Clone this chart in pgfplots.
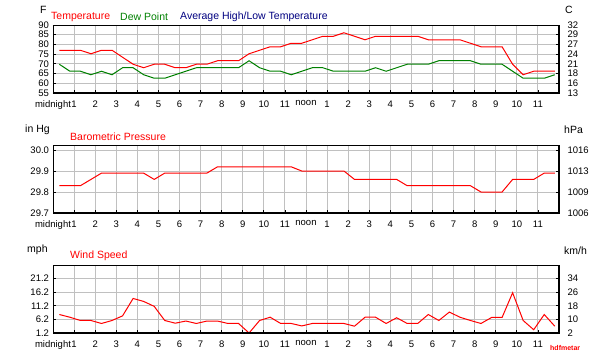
\documentclass[border=0pt]{standalone}
\usepackage{pgfplots}
\usepackage{pgfplotstable}
\pgfplotsset{compat=1.18}
\usepackage{fontspec}
\setmainfont{Liberation Sans}
\definecolor{tred}{HTML}{FF0000}
\definecolor{tgreen}{HTML}{008000}
\definecolor{tnavy}{HTML}{000080}
\definecolor{gridgray}{HTML}{C0C0C0}

% temperature and dew point, degrees F (half-hourly observations)
\pgfplotstableread{
h t d
0.3 77 69.8
0.8 77 66.2
1.3 77 66.2
1.8 75.2 64.4
2.3 77 66.2
2.8 77 64.4
3.3 73.4 68
3.8 69.8 68
4.3 68 64.4
4.8 69.8 62.6
5.3 69.8 62.6
5.8 68 64.4
6.3 68 66.2
6.8 69.8 68
7.3 69.8 68
7.8 71.6 68
8.3 71.6 68
8.8 71.6 68
9.3 75.2 71.6
9.8 77 68
10.3 78.8 66.2
10.8 78.8 66.2
11.3 80.6 64.4
11.8 80.6 66.2
12.3 82.4 68
12.8 84.2 68
13.3 84.2 66.2
13.8 86 66.2
14.3 84.2 66.2
14.8 82.4 66.2
15.3 84.2 68
15.8 84.2 66.2
16.3 84.2 68
16.8 84.2 69.8
17.3 84.2 69.8
17.8 82.4 69.8
18.3 82.4 71.6
18.8 82.4 71.6
19.3 82.4 71.6
19.8 80.6 71.6
20.3 78.8 69.8
20.8 78.8 69.8
21.3 78.8 69.8
21.8 69.8 66.2
22.3 64.4 62.6
22.8 66.2 62.6
23.3 66.2 62.6
23.8 66.2 64.4
}\temptable

% barometric pressure, in Hg
\pgfplotstableread{
h p
0.3 29.83
0.8 29.83
1.3 29.83
1.8 29.86
2.3 29.89
2.8 29.89
3.3 29.89
3.8 29.89
4.3 29.89
4.8 29.86
5.3 29.89
5.8 29.89
6.3 29.89
6.8 29.89
7.3 29.89
7.8 29.92
8.3 29.92
8.8 29.92
9.3 29.92
9.8 29.92
10.3 29.92
10.8 29.92
11.3 29.92
11.8 29.90
12.3 29.90
12.8 29.90
13.3 29.90
13.8 29.90
14.3 29.86
14.8 29.86
15.3 29.86
15.8 29.86
16.3 29.86
16.8 29.83
17.3 29.83
17.8 29.83
18.3 29.83
18.8 29.83
19.3 29.83
19.8 29.83
20.3 29.80
20.8 29.80
21.3 29.80
21.8 29.86
22.3 29.86
22.8 29.86
23.3 29.89
23.8 29.89
}\prestable

% wind speed, mph
\pgfplotstableread{
h w
0.3 8.0
0.8 7.0
1.3 5.8
1.8 5.8
2.3 4.7
2.8 5.8
3.3 7.5
3.8 13.9
4.3 12.8
4.8 11.0
5.3 5.8
5.8 4.8
6.3 5.6
6.8 4.7
7.3 5.6
7.8 5.6
8.3 4.7
8.8 4.7
9.3 1.2
9.8 5.8
10.3 7.0
10.8 4.7
11.3 4.7
11.8 3.8
12.3 4.7
12.8 4.7
13.3 4.7
13.8 4.7
14.3 3.7
14.8 7.0
15.3 7.0
15.8 4.7
16.3 6.8
16.8 4.7
17.3 4.7
17.8 8.0
18.3 5.8
18.8 8.9
19.3 7.0
19.8 5.8
20.3 4.7
20.8 6.9
21.3 6.9
21.8 16.0
22.3 5.8
22.8 2.4
23.3 8.0
23.8 3.7
}\windtable

\tikzset{frame/.style={black, line width=1.8bp}}
\pgfplotsset{
  wxbase/.style={
    scale only axis, width=506bp, height=68bp,
    xmin=0, xmax=24,
    axis line style={black, line width=0.8bp},
    tick style={black, line width=0.8bp},
    major tick length=3bp,
    tick align=inside,
    ticklabel style={font=\fontsize{9.5bp}{11bp}\selectfont, text=black},
  },
  wxleft/.style={
    wxbase,
    xtick={0,...,23},
    xticklabels={midnight,1,2,3,4,5,6,7,8,9,10,11,noon,1,2,3,4,5,6,7,8,9,10,11},
    xticklabel style={yshift=-4bp},
    grid=major, major grid style={gridgray, line width=0.9bp},
    xtick pos=left, ytick pos=left,
    yticklabel style={xshift=-0.5bp},
  },
  wxright/.style={
    wxbase,
    axis x line=none, axis y line*=right,
    yticklabel style={xshift=5bp},
  },
}

\begin{document}
\begin{tikzpicture}
\useasboundingbox (0,0) rectangle (600bp,360bp);

% ---------------- Temperature panel ----------------
\begin{axis}[wxleft, at={(53bp,267bp)}, anchor=south west,
  ymin=55, ymax=90, ytick={55,60,...,90},
  yticklabels={55,60,65,70,75,80,85,90}]
  \addplot[tred, line width=1bp] table[x=h, y=t] {\temptable};
  \addplot[tgreen, line width=1bp] table[x=h, y=d] {\temptable};
  \draw[frame] (rel axis cs:0,0) -- (rel axis cs:1,0) -- (rel axis cs:1,1);
\end{axis}
\begin{axis}[wxright, at={(53bp,267bp)}, anchor=south west,
  ymin=55, ymax=90, ytick={55,60,...,90},
  yticklabels={13,16,18,21,24,27,29,32}]
\end{axis}

% ---------------- Pressure panel ----------------
\begin{axis}[wxleft, at={(53bp,147bp)}, anchor=south west,
  ymin=29.7, ymax=30.024, ytick={29.7,29.8,29.9,30.0},
  yticklabels={29.7,29.8,29.9,30.0}]
  \addplot[tred, line width=1bp] table[x=h, y=p] {\prestable};
  \draw[frame] (rel axis cs:0,0) -- (rel axis cs:1,0) -- (rel axis cs:1,1);
\end{axis}
\begin{axis}[wxright, at={(53bp,147bp)}, anchor=south west,
  ymin=29.7, ymax=30.024, ytick={29.7,29.8,29.9,30.0},
  yticklabels={1006,1009,1013,1016}]
\end{axis}

% ---------------- Wind panel ----------------
\begin{axis}[wxleft, at={(53bp,27bp)}, anchor=south west,
  ymin=1.2, ymax=26.2, ytick={1.2,6.2,11.2,16.2,21.2},
  yticklabels={1.2,6.2,11.2,16.2,21.2}]
  \addplot[tred, line width=1bp] table[x=h, y=w] {\windtable};
  \draw[frame] (rel axis cs:0,0) -- (rel axis cs:1,0) -- (rel axis cs:1,1);
\end{axis}
\begin{axis}[wxright, at={(53bp,27bp)}, anchor=south west,
  ymin=1.2, ymax=26.2, ytick={1.2,6.2,11.2,16.2,21.2},
  yticklabels={2,10,18,26,34}]
\end{axis}

% ---------------- titles and units ----------------
\tikzset{ttl/.style={anchor=west, inner sep=0pt, font=\fontsize{10.5bp}{12bp}\selectfont}}
\node[ttl] at (40bp,350bp) {F};
\node[ttl, text=tred] at (51bp,343bp) {Temperature};
\node[ttl, text=tgreen] at (120bp,343bp) {Dew Point};
\node[ttl, text=tnavy] at (180bp,343bp) {Average High/Low Temperature};
\node[ttl] at (565bp,350bp) {C};

\node[ttl] at (25bp,230bp) {in Hg};
\node[ttl, text=tred] at (70bp,223.5bp) {Barometric Pressure};
\node[ttl] at (564bp,230bp) {hPa};

\node[ttl] at (27bp,110bp) {mph};
\node[ttl, text=tred] at (70bp,104bp) {Wind Speed};
\node[ttl] at (564bp,109bp) {km/h};

\node[anchor=west, inner sep=0pt, text=tred, font=\bfseries\fontsize{7bp}{8bp}\selectfont] at (550bp,12bp) {hdfmetar};
\end{tikzpicture}
\end{document}
